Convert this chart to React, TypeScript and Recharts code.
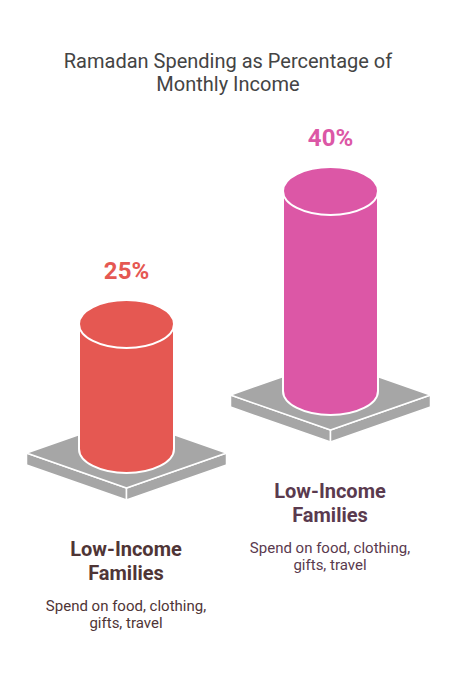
import { BarChart, Bar, XAxis, YAxis, Cell } from "recharts";

// data
const categories = ["Low-Income Families", "Low-Income Families"];
const descriptions = [
  ["Spend on food, clothing,", "gifts, travel"],
  ["Spend on food, clothing,", "gifts, travel"],
];
const spendPct = [25, 40];

// styles
const BAR_COLORS = ["#E55852", "#DC57A6"];
const LABEL_COLORS = ["#4F3536", "#5A3A4E"];
const LIFT = [0, 58]; // the second column sits higher on the page
const PLATFORM = "#A6A6A6";
const FONT = "Roboto, sans-serif";

const rows = categories.map((name, i) => ({ name, value: spendPct[i], idx: i }));

const Cylinder = (props: any) => {
  const { x, y, width, height, index } = props;
  const lift = LIFT[index] ?? 0;
  const cx = x + width / 2;
  const rx = width / 2;
  const ry = 24;
  const top = y - lift;
  const base = y + height - lift;
  const color = BAR_COLORS[index];
  // platform
  const pw = 100;
  const ph = 35;
  const pc = base + 4;
  const t = 12;
  const L = [cx - pw, pc];
  const R = [cx + pw, pc];
  const F = [cx, pc + ph];
  const B = [cx, pc - ph];
  const pt = (p: number[], dy = 0) => `${p[0]},${p[1] + dy}`;
  return (
    <g>
      <polygon
        points={`${pt(L)} ${pt(F)} ${pt(F, t)} ${pt(L, t)}`}
        fill={PLATFORM}
        stroke="#fff"
        strokeWidth={1.5}
      />
      <polygon
        points={`${pt(F)} ${pt(R)} ${pt(R, t)} ${pt(F, t)}`}
        fill={PLATFORM}
        stroke="#fff"
        strokeWidth={1.5}
      />
      <polygon
        points={`${pt(L)} ${pt(B)} ${pt(R)} ${pt(F)}`}
        fill={PLATFORM}
        stroke="#fff"
        strokeWidth={1.5}
        strokeLinejoin="round"
      />
      {/* body */}
      <path
        d={`M ${cx - rx} ${top} L ${cx - rx} ${base} A ${rx} ${ry} 0 0 0 ${cx + rx} ${base} L ${cx + rx} ${top} Z`}
        fill={color}
        stroke="#fff"
        strokeWidth={2}
      />
      <ellipse cx={cx} cy={top} rx={rx} ry={ry} fill={color} stroke="#fff" strokeWidth={2} />
      <text
        x={cx}
        y={top - ry - 21}
        textAnchor="middle"
        fill={color}
        fontFamily={FONT}
        fontWeight={700}
        fontSize={24}
      >
        {`${spendPct[index]}%`}
      </text>
    </g>
  );
};

const CategoryTick = (props: any) => {
  const { x, y, index, payload } = props;
  const lift = LIFT[index] ?? 0;
  const base = y - lift;
  const words = String(payload.value).split(" ");
  const color = LABEL_COLORS[index];
  return (
    <g>
      <text x={x} textAnchor="middle" fill={color} fontFamily={FONT} fontWeight={700} fontSize={20}>
        <tspan x={x} y={base + 107}>{words[0]}</tspan>
        <tspan x={x} y={base + 131}>{words.slice(1).join(" ")}</tspan>
      </text>
      <text x={x} textAnchor="middle" fill={color} fontFamily={FONT} fontSize={15}>
        {descriptions[index].map((line, j) => (
          <tspan key={j} x={x} y={base + 162 + j * 17}>{line}</tspan>
        ))}
      </text>
    </g>
  );
};

export default function App() {
  return (
    <div style={{ position: "fixed", left: 0, top: 0, width: 456, height: 680, background: "#fff" }}>
      <div
        style={{
          position: "absolute",
          top: 50,
          left: 0,
          width: 456,
          textAlign: "center",
          fontFamily: FONT,
          fontSize: 20,
          lineHeight: "23px",
          color: "#444",
        }}
      >
        Ramadan Spending as Percentage of
        <br />
        Monthly Income
      </div>
      <BarChart width={456} height={680} data={rows} margin={{ top: 149, right: 24, bottom: 0, left: 24 }}>
        <XAxis
          dataKey="name"
          height={231}
          axisLine={false}
          tickLine={false}
          tickSize={0}
          tickMargin={0}
          interval={0}
          tick={<CategoryTick />}
        />
        <YAxis hide domain={[0, 60]} />
        <Bar dataKey="value" barSize={95} shape={<Cylinder />} isAnimationActive={false}>
          {rows.map((r) => (
            <Cell key={r.idx} fill={BAR_COLORS[r.idx]} />
          ))}
        </Bar>
      </BarChart>
    </div>
  );
}
